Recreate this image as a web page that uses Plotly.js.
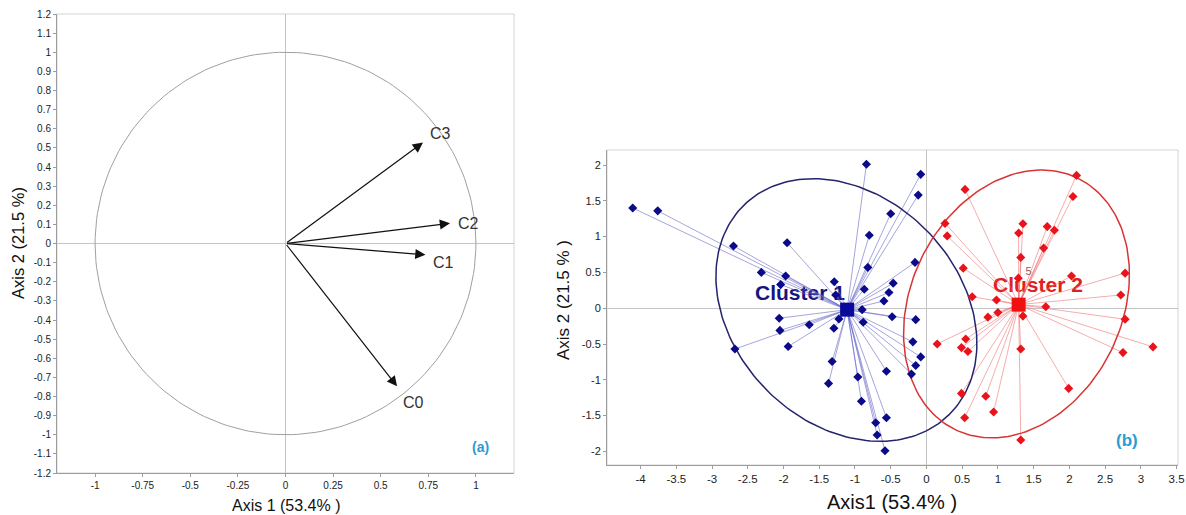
<!DOCTYPE html>
<html>
<head>
<meta charset="utf-8">
<script src="https://cdn.plot.ly/plotly-3.0.1.min.js"></script>
<style>html,body{margin:0;padding:0;background:#fff;}#chart{width:1186px;height:515px;}</style>
</head>
<body>
<div id="chart"></div>
<script>
// ---------- Panel (a): correlation circle ----------
const varNames = ["C0", "C1", "C2", "C3"];
const varAxis1 = [0.586, 0.735, 0.864, 0.722];
const varAxis2 = [-0.747, -0.059, 0.106, 0.528];
const circleRadius = [1];

const aXTicks = [-1, -0.75, -0.5, -0.25, 0, 0.25, 0.5, 0.75, 1];
const aXTickText = ["-1", "-0.75", "-0.5", "-0.25", "0", "0.25", "0.5", "0.75", "1"];
const aYTicks = [1.2, 1.1, 1, 0.9, 0.8, 0.7, 0.6, 0.5, 0.4, 0.3, 0.2, 0.1, 0, -0.1, -0.2, -0.3, -0.4, -0.5, -0.6, -0.7, -0.8, -0.9, -1, -1.1, -1.2];
const aYTickText = ["1.2", "1.1", "1", "0.9", "0.8", "0.7", "0.6", "0.5", "0.4", "0.3", "0.2", "0.1", "0", "-0.1", "-0.2", "-0.3", "-0.4", "-0.5", "-0.6", "-0.7", "-0.8", "-0.9", "-1", "-1.1", "-1.2"];

// ---------- Panel (b): individuals and clusters ----------
const cluster1X = [-4.11, -3.76, -2.70, -1.95, -2.31, -1.97, -2.04, -1.29, -1.27, -2.06, -2.05, -1.64, -1.935, -2.68, -1.225, -1.295, -1.32, -1.37, -0.84, -0.80, -0.82, -0.87, -0.90, -0.885, -0.96, -0.91, -0.71, -0.69, -0.58, -0.56, -0.56, -0.50, -0.115, -0.08, -0.16, -0.465, -0.525, -0.595, -0.48, -0.15, -0.19, -0.08, -0.15, -0.21];
const cluster1Y = [1.40, 1.36, 0.87, 0.915, 0.50, 0.45, 0.33, 0.37, 0.185, -0.14, -0.31, -0.23, -0.535, -0.57, -0.15, -0.28, -0.745, -1.05, 2.01, 1.02, 0.57, 0.265, -0.02, -0.195, -0.96, -1.30, -1.60, -1.77, -1.99, -1.53, -0.88, 1.32, 1.58, 1.87, 0.64, 0.35, 0.22, 0.10, -0.12, -0.16, -0.47, -0.68, -0.80, -0.92];
const cluster2X = [2.10, 2.05, 0.54, 0.26, 0.29, 1.35, 1.29, 1.69, 1.79, 1.64, 1.32, 0.515, 2.03, 1.285, 2.78, 2.72, 0.64, 0.98, 1.67, 1.35, 1.00, 0.86, 2.78, 3.17, 2.75, 0.15, 0.55, 0.49, 0.58, 1.32, 1.99, 0.49, 0.83, 0.94, 0.535, 1.32];
const cluster2Y = [1.855, 1.56, 1.66, 1.185, 1.01, 1.18, 1.05, 1.14, 1.09, 0.84, 0.71, 0.56, 0.45, 0.42, 0.49, 0.185, 0.16, 0.115, 0.02, -0.11, -0.06, -0.125, -0.155, -0.54, -0.62, -0.50, -0.43, -0.55, -0.605, -0.57, -1.12, -1.19, -1.23, -1.45, -1.53, -1.84];

const clusterNames = ["Cluster 1", "Cluster 2"];
const centroidX = [-1.11, 1.29];
const centroidY = [-0.02, 0.05];
// confidence ellipses: centre, semi-axes, rotation (degrees)
const ellipseCX = [-1.12, 1.26];
const ellipseCY = [-0.025, 0.06];
const ellipseA = [2.05, 1.954];
const ellipseB = [1.58, 1.476];
const ellipseAngle = [-45.5, 63.8];
const clusterLabelX = [-1.77, 1.56];
const clusterLabelY = [0.185, 0.30];
const pointLabel = ["5"];
const pointLabelX = [1.43];
const pointLabelY = [0.50];

const bXTicks = [-4, -3.5, -3, -2.5, -2, -1.5, -1, -0.5, 0, 0.5, 1, 1.5, 2, 2.5, 3, 3.5];
const bXTickText = ["-4", "-3.5", "-3", "-2.5", "-2", "-1.5", "-1", "-0.5", "0", "0.5", "1", "1.5", "2", "2.5", "3", "3.5"];
const bYTicks = [2, 1.5, 1, 0.5, 0, -0.5, -1, -1.5, -2];
const bYTickText = ["2", "1.5", "1", "0.5", "0", "-0.5", "-1", "-1.5", "-2"];

// ---------- helpers ----------
const FONT = "Liberation Sans, Arial, Helvetica, sans-serif";
function ellipsePath(cx, cy, a, b, angDeg) {
  const xs = [], ys = [];
  const t = angDeg * Math.PI / 180;
  for (let i = 0; i <= 200; i++) {
    const u = 2 * Math.PI * i / 200;
    const ex = a * Math.cos(u), ey = b * Math.sin(u);
    xs.push(cx + ex * Math.cos(t) - ey * Math.sin(t));
    ys.push(cy + ex * Math.sin(t) + ey * Math.cos(t));
  }
  return {xs, ys};
}
function spokes(px, py, cx, cy) {
  const xs = [], ys = [];
  for (let i = 0; i < px.length; i++) {
    xs.push(px[i], cx, null);
    ys.push(py[i], cy, null);
  }
  return {xs, ys};
}

const traces = [];
// unit circle
const circ = ellipsePath(0, 0, circleRadius[0], circleRadius[0], 0);
traces.push({x: circ.xs, y: circ.ys, xaxis: "x", yaxis: "y", mode: "lines",
  line: {color: "#a0a0a0", width: 1}, hoverinfo: "skip", showlegend: false});

// cluster labels (drawn underneath marks)
const labelColors = ["#15157d", "#e0201e"];
for (let k = 0; k < 2; k++) {
  traces.push({x: [clusterLabelX[k]], y: [clusterLabelY[k]], xaxis: "x2", yaxis: "y2", mode: "text",
    text: ["<b>" + clusterNames[k] + "</b>"], textposition: "middle center",
    textfont: {family: FONT, size: 21, color: labelColors[k]}, hoverinfo: "skip", showlegend: false});
}
// spokes
const s1 = spokes(cluster1X, cluster1Y, centroidX[0], centroidY[0]);
const s2 = spokes(cluster2X, cluster2Y, centroidX[1], centroidY[1]);
traces.push({x: s1.xs, y: s1.ys, xaxis: "x2", yaxis: "y2", mode: "lines",
  line: {color: "rgba(105,105,200,0.6)", width: 1}, hoverinfo: "skip", showlegend: false});
traces.push({x: s2.xs, y: s2.ys, xaxis: "x2", yaxis: "y2", mode: "lines",
  line: {color: "rgba(236,105,105,0.55)", width: 1}, hoverinfo: "skip", showlegend: false});
// ellipses
const ellColors = ["#24246e", "#d83434"];
for (let k = 0; k < 2; k++) {
  const e = ellipsePath(ellipseCX[k], ellipseCY[k], ellipseA[k], ellipseB[k], ellipseAngle[k]);
  traces.push({x: e.xs, y: e.ys, xaxis: "x2", yaxis: "y2", mode: "lines",
    line: {color: ellColors[k], width: 1.5}, hoverinfo: "skip", showlegend: false});
}
// points
traces.push({x: cluster1X, y: cluster1Y, xaxis: "x2", yaxis: "y2", mode: "markers",
  marker: {symbol: "diamond", size: 7, color: "#0a0a8a"}, showlegend: false});
traces.push({x: cluster2X, y: cluster2Y, xaxis: "x2", yaxis: "y2", mode: "markers",
  marker: {symbol: "diamond", size: 7, color: "#e8141c"}, showlegend: false});
// centroids
traces.push({x: centroidX, y: centroidY, xaxis: "x2", yaxis: "y2", mode: "markers",
  marker: {symbol: "square", size: 14, color: ["#0a0a9a", "#f01010"]}, showlegend: false});
// small point label
traces.push({x: pointLabelX, y: pointLabelY, xaxis: "x2", yaxis: "y2", mode: "text",
  text: pointLabel, textfont: {family: FONT, size: 11, color: "#a05a5a"}, hoverinfo: "skip", showlegend: false});

// ---------- annotations ----------
const annotations = [];
const labelShift = [[4, -16], [6, -8], [6, 0], [5, 9]];
for (let i = 0; i < varNames.length; i++) {
  annotations.push({xref: "x", yref: "y", axref: "x", ayref: "y",
    x: varAxis1[i], y: varAxis2[i], ax: 0, ay: 0, text: "", showarrow: true,
    arrowhead: 2, arrowsize: 1.7, arrowwidth: 1.2, arrowcolor: "#111", standoff: 0});
  annotations.push({xref: "x", yref: "y", x: varAxis1[i], y: varAxis2[i], text: varNames[i],
    showarrow: false, xanchor: "left", yanchor: "middle", xshift: labelShift[i][0], yshift: labelShift[i][1],
    font: {family: FONT, size: 16, color: "#333"}});
}
// titles
annotations.push({xref: "paper", yref: "paper", x: 286 / 1186, y: 1 - 505 / 515, text: "Axis 1 (53.4% )",
  showarrow: false, xanchor: "center", yanchor: "middle", font: {family: FONT, size: 16, color: "#111"}});
annotations.push({xref: "paper", yref: "paper", x: 18 / 1186, y: 1 - 243 / 515, text: "Axis 2 (21.5 %)",
  showarrow: false, textangle: -90, xanchor: "center", yanchor: "middle", font: {family: FONT, size: 16.5, color: "#111"}});
annotations.push({xref: "paper", yref: "paper", x: 892 / 1186, y: 1 - 502 / 515, text: "Axis1 (53.4% )",
  showarrow: false, xanchor: "center", yanchor: "middle", font: {family: FONT, size: 20, color: "#111"}});
annotations.push({xref: "paper", yref: "paper", x: 563 / 1186, y: 1 - 300 / 515, text: "Axis 2 (21.5 % )",
  showarrow: false, textangle: -90, xanchor: "center", yanchor: "middle", font: {family: FONT, size: 17, color: "#111"}});
// panel tags
annotations.push({xref: "paper", yref: "paper", x: 480 / 1186, y: 1 - 447 / 515, text: "<b>(a)</b>",
  showarrow: false, xanchor: "center", yanchor: "middle", font: {family: FONT, size: 14, color: "#2d9bd2"}});
annotations.push({xref: "paper", yref: "paper", x: 1127 / 1186, y: 1 - 440 / 515, text: "<b>(b)</b>",
  showarrow: false, xanchor: "center", yanchor: "middle", font: {family: FONT, size: 17, color: "#2d9bd2"}});

function axisBase(extra) {
  return Object.assign({
    showgrid: false, zeroline: true, zerolinecolor: "#c4c4c4", zerolinewidth: 1,
    showline: true, linecolor: "#9c9c9c", linewidth: 1,
    ticks: "outside", ticklen: 3, tickcolor: "#9c9c9c", tickmode: "array",
    fixedrange: true, tickfont: {family: FONT, color: "#333"}
  }, extra);
}

const layout = {
  width: 1186, height: 515,
  margin: {l: 0, r: 0, t: 0, b: 0},
  paper_bgcolor: "#fff", plot_bgcolor: "#fff",
  showlegend: false,
  xaxis: axisBase({domain: [57 / 1186, 514 / 1186], range: [-1.2, 1.2], tickvals: aXTicks, ticktext: aXTickText,
    tickfont: {family: FONT, size: 10, color: "#222"}, anchor: "y"}),
  yaxis: axisBase({domain: [1 - 473 / 515, 1 - 14 / 515], range: [-1.2, 1.2], tickvals: aYTicks, ticktext: aYTickText,
    tickfont: {family: FONT, size: 10, color: "#222"}, anchor: "x"}),
  xaxis2: axisBase({domain: [607 / 1186, 1178 / 1186], range: [-4.47, 3.52], tickvals: bXTicks, ticktext: bXTickText,
    tickfont: {family: FONT, size: 11.5, color: "#222"}, anchor: "y2"}),
  yaxis2: axisBase({domain: [1 - 465 / 515, 1 - 150 / 515], range: [-2.19, 2.21], tickvals: bYTicks, ticktext: bYTickText,
    tickfont: {family: FONT, size: 11, color: "#222"}, anchor: "x2"}),
  shapes: [
    {type: "rect", xref: "x domain", yref: "y domain", x0: 0, x1: 1, y0: 0, y1: 1, layer: "below", line: {color: "#d4d4d4", width: 1}},
    {type: "rect", xref: "x2 domain", yref: "y2 domain", x0: 0, x1: 1, y0: 0, y1: 1, layer: "below", line: {color: "#d4d4d4", width: 1}}
  ],
  annotations: annotations
};

Plotly.newPlot("chart", traces, layout, {staticPlot: true, displayModeBar: false});
</script>
</body>
</html>
